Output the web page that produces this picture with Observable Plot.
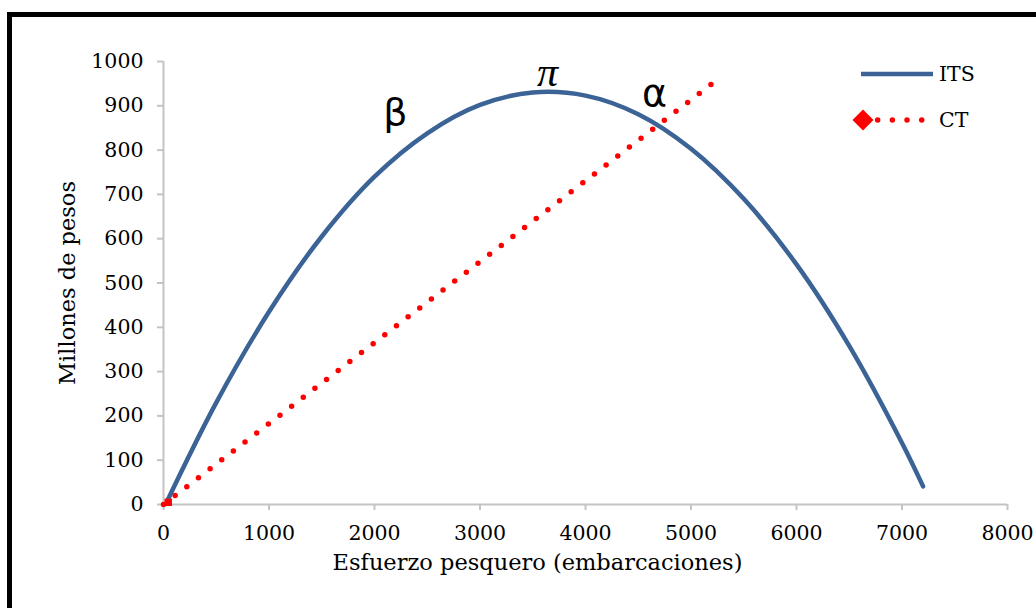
<!DOCTYPE html>
<html>
<head>
<meta charset="utf-8">
<script src="https://cdn.jsdelivr.net/npm/d3@7"></script>
<script src="https://cdn.jsdelivr.net/npm/@observablehq/plot@0.6"></script>
<style>
html, body { margin: 0; padding: 0; background: #fff; overflow: hidden; }
#wrap { position: relative; width: 1036px; height: 608px; overflow: hidden; background: #fff; }
#frame { position: absolute; left: 7px; top: 12px; width: 1100px; height: 700px; border: 5px solid #000; box-sizing: border-box; }
#chart { position: absolute; left: 0; top: 0; }
#legend { position: absolute; left: 0; top: 0; }
</style>
</head>
<body>
<div id="wrap">
  <div id="frame"></div>
  <div id="chart"></div>
  <svg id="legend" width="1036" height="608" font-family="DejaVu Serif" font-size="20.5"></svg>
</div>
<script>
// ---- Data ----
const effort = [35, 500, 1000, 1500, 2000, 2500, 3000, 3500, 4000, 4500, 5000, 5500, 6000, 6500, 7000, 7200];
const its    = [8, 230, 435, 605, 740, 838, 902, 930, 923, 881, 803, 690, 542, 358, 139, 41];
const ctEffort = [0, 5200];
const ct       = [0, 950];
const ctMarkerEffort = [45];
const ctMarkerValue  = [5];
const xTicks = [0, 1000, 2000, 3000, 4000, 5000, 6000, 7000, 8000];
const yTicks = [0, 100, 200, 300, 400, 500, 600, 700, 800, 900, 1000];
const greekLabels = ["β", "α"];
const greekX = [2199, 4654];
const greekY = [885, 928];
const piLabel = ["π"];
const piX = [3640];
const piY = [975];
const xTitle = "Esfuerzo pesquero (embarcaciones)";
const yTitle = "Millones de pesos";
const seriesNames = ["ITS", "CT"];

const itsColor = "#3b6396";
const ctColor = "#ff0000";
const axisGray = "#c4c4c4";

const itsData = effort.map((e, i) => ({e, v: its[i]}));
const ctData = ctEffort.map((e, i) => ({e, v: ct[i]}));
const markerData = ctMarkerEffort.map((e, i) => ({e, v: ctMarkerValue[i]}));
const greekData = greekLabels.map((t, i) => ({t, x: greekX[i], y: greekY[i]}));
const piData = piLabel.map((t, i) => ({t, x: piX[i], y: piY[i]}));

const chart = Plot.plot({
  width: 1036,
  height: 608,
  marginLeft: 163,
  marginRight: 29,
  marginTop: 61,
  marginBottom: 104,
  style: { fontFamily: "DejaVu Serif", fontSize: "20.5px", color: "#000", background: "transparent" },
  x: { domain: [0, 8000] },
  y: { domain: [0, 1000] },
  marks: [
    Plot.ruleY([0], { stroke: axisGray, strokeWidth: 2 }),
    Plot.ruleX([0], { stroke: axisGray, strokeWidth: 2 }),
    Plot.axisX({ ticks: xTicks, tickSize: 6, tickPadding: 15, stroke: axisGray, strokeWidth: 2, fill: "#000", tickFormat: d => String(d), label: null }),
    Plot.axisY({ ticks: yTicks, tickSize: 6, tickPadding: 14, stroke: axisGray, strokeWidth: 2, fill: "#000", tickFormat: d => String(d), label: null }),
    Plot.text([xTitle], { frameAnchor: "bottom", dx: -48, dy: 58, lineAnchor: "middle", fontSize: 22.5, fill: "#000" }),
    Plot.text([yTitle], { frameAnchor: "left", dx: -96, rotate: -90, lineAnchor: "middle", textAnchor: "middle", fontSize: 22.5, fill: "#000" }),
    Plot.line(ctData, { x: "e", y: "v", stroke: ctColor, strokeWidth: 5.5, strokeDasharray: "0 14.68", strokeLinecap: "round" }),
    Plot.line(itsData, { x: "e", y: "v", stroke: itsColor, strokeWidth: 4.5, curve: "catmull-rom" }),
    Plot.dot(markerData, { x: "e", y: "v", symbol: "square", r: 4.2, fill: ctColor, stroke: "none" }),
    Plot.text(greekData, { x: "x", y: "y", text: "t", fontSize: 38, fontFamily: "DejaVu Sans", lineAnchor: "middle", fill: "#000" }),
    Plot.text(piData, { x: "x", y: "y", text: "t", fontSize: 42, fontFamily: "Liberation Serif", fontStyle: "italic", lineAnchor: "middle", fill: "#000" })
  ]
});
document.getElementById("chart").appendChild(chart);

// ---- Legend ----
const leg = d3.select("#legend");
const legItems = [
  { name: seriesNames[0], y: 74 },
  { name: seriesNames[1], y: 120 }
];
leg.append("line").attr("x1", 861).attr("x2", 933).attr("y1", legItems[0].y).attr("y2", legItems[0].y)
  .attr("stroke", itsColor).attr("stroke-width", 4.5);
leg.append("line").attr("x1", 863).attr("x2", 925).attr("y1", legItems[1].y).attr("y2", legItems[1].y)
  .attr("stroke", ctColor).attr("stroke-width", 5.5).attr("stroke-dasharray", "0 14.68").attr("stroke-linecap", "round");
leg.append("path").attr("d", d3.symbol(d3.symbolDiamond2, 280)())
  .attr("transform", `translate(863,${legItems[1].y})`).attr("fill", ctColor);
legItems.forEach(it => {
  leg.append("text").attr("x", 939).attr("y", it.y).attr("dy", "0.35em").attr("fill", "#000").text(it.name);
});
</script>
</body>
</html>
